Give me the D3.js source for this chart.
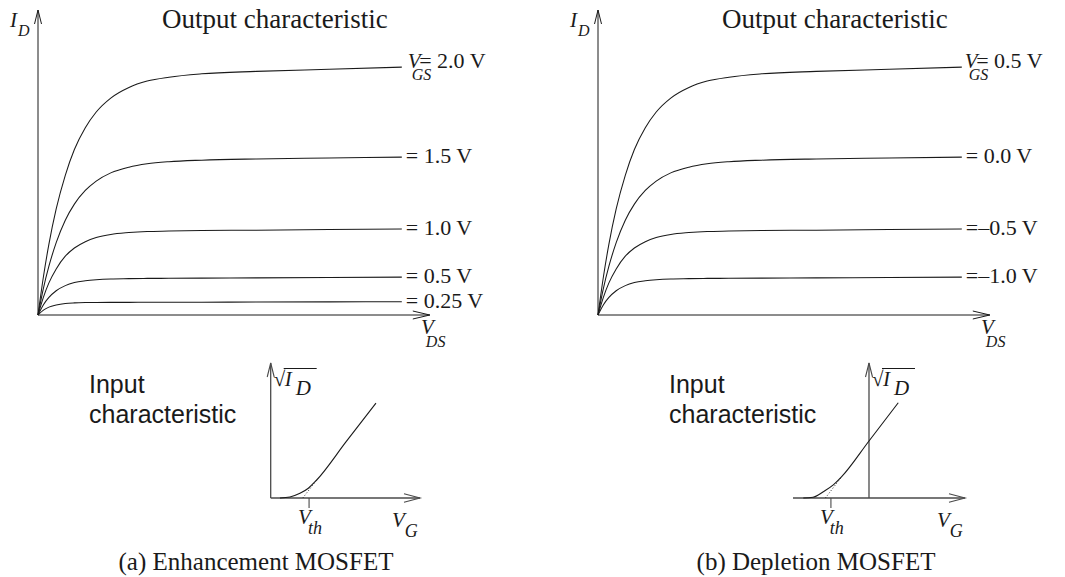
<!DOCTYPE html>
<html>
<head>
<meta charset="utf-8">
<script src="https://cdn.jsdelivr.net/npm/d3@7"></script>
<style>
  body { margin: 0; background: #fff; }
  svg { display: block; }
</style>
</head>
<body>
<svg id="fig" width="1065" height="577"></svg>
<script>
// ---- Output characteristic: drain current vs drain-source voltage ----
const vdsGrid  = [0, 0.15, 0.3, 0.5, 0.75, 1.0, 1.3, 1.6, 2.0, 2.5, 3.0, 3.6, 4.5, 6.0, 8.0, 10.0];
const idCurveA = [0, 1.27, 2.34, 3.50, 4.61, 5.46, 6.18, 6.70, 7.16, 7.51, 7.72, 7.85, 7.96, 8.04, 8.11, 8.18];
const idCurveB = [0, 0.89, 1.61, 2.39, 3.13, 3.66, 4.11, 4.42, 4.69, 4.88, 4.99, 5.06, 5.11, 5.15, 5.18, 5.21];
const idCurveC = [0, 0.59, 1.06, 1.52, 1.94, 2.21, 2.42, 2.555, 2.66, 2.72, 2.755, 2.77, 2.79, 2.80, 2.82, 2.84];
const idCurveD = [0, 0.34, 0.58, 0.80, 0.97, 1.07, 1.13, 1.165, 1.19, 1.20, 1.208, 1.21, 1.217, 1.226, 1.238, 1.25];
const idCurveE = [0, 0.16, 0.26, 0.33, 0.38, 0.40, 0.41, 0.413, 0.416, 0.4175, 0.419, 0.421, 0.4235, 0.428, 0.434, 0.44];

const enhVgsLabels = ["2.0 V", "1.5 V", "1.0 V", "0.5 V", "0.25 V"];
const depVgsLabels = ["0.5 V", "0.0 V", "\u20130.5 V", "\u20131.0 V"];

// ---- Input characteristic: sqrt(I_D) vs gate voltage ----
const enhVg      = [0.62, 1.29, 1.96, 2.52, 3.08, 5.04, 7.05];
const enhSqrtId  = [0, 0.07, 0.31, 0.65, 1.20, 3.74, 6.33];
const enhTangent = [[2.15, 0], [3.08, 1.20]];
const enhVth     = 2.57;

const depVg      = [-4.40, -3.75, -3.06, -2.39, -1.83, 0, 1.96];
const depSqrtId  = [0, 0.05, 0.42, 0.87, 1.42, 3.80, 6.35];
const depTangent = [[-2.92, 0], [-1.83, 1.42]];
const depVth     = -2.55;

const captions = ["(a) Enhancement MOSFET", "(b) Depletion MOSFET"];

const SERIF = "'Liberation Serif', 'Times New Roman', Times, serif";
const SANS  = "'Liberation Sans', Arial, Helvetica, sans-serif";
const INK = "#1a1a1a";

const svg = d3.select("#fig");

function text(g, str, x, y, size, opts = {}) {
  return g.append("text")
    .attr("x", x).attr("y", y)
    .attr("font-family", opts.family || SERIF)
    .attr("font-size", size)
    .attr("font-style", opts.italic ? "italic" : "normal")
    .attr("text-anchor", opts.anchor || "start")
    .attr("fill", opts.fill || INK)
    .text(str);
}

// one text element built from runs: {t, italic, size, dx, dy}
function richText(g, x, y, runs) {
  const el = g.append("text").attr("x", x).attr("y", y)
    .attr("font-family", SERIF).attr("fill", INK);
  runs.forEach(r => {
    el.append("tspan")
      .attr("font-size", r.size)
      .attr("font-style", r.italic ? "italic" : "normal")
      .attr("dx", r.dx || 0).attr("dy", r.dy || 0)
      .text(r.t);
  });
  return el;
}

// open "V" arrowhead pointing in direction (dx, dy) with tip at (tx, ty)
function arrowHead(g, tx, ty, dx, dy, len, half, color, width) {
  const px = -dy, py = dx;
  const bx = tx - dx * len, by = ty - dy * len;
  g.append("path")
    .attr("d", `M${bx + px * half},${by + py * half}L${tx},${ty}L${bx - px * half},${by - py * half}`)
    .attr("fill", "none").attr("stroke", color).attr("stroke-width", width);
}

function outputPanel(ox, curves, labels, vgsDx) {
  const g = svg.append("g");
  const x = d3.scaleLinear().domain([0, 10.5]).range([ox, ox + 382]);
  const y = d3.scaleLinear().domain([0, 10]).range([315, 12]);
  const xAxisEnd = x(10.77), yAxisTop = 10;

  // axes
  g.append("line").attr("x1", x(0)).attr("y1", y(0)).attr("x2", x(0)).attr("y2", yAxisTop)
    .attr("stroke", INK).attr("stroke-width", 1);
  g.append("line").attr("x1", x(0)).attr("y1", y(0)).attr("x2", xAxisEnd).attr("y2", y(0))
    .attr("stroke", INK).attr("stroke-width", 1);
  arrowHead(g, x(0), yAxisTop, 0, -1, 14, 3.5, INK, 1);
  arrowHead(g, xAxisEnd, y(0), 1, 0, 17, 4, INK, 1);

  const line = d3.line().x(d => x(d[0])).y(d => y(d[1])).curve(d3.curveMonotoneX);
  curves.forEach((ids, i) => {
    const pts = vdsGrid.map((v, k) => [v, ids[k]]);
    g.append("path").attr("d", line(pts))
      .attr("fill", "none").attr("stroke", INK).attr("stroke-width", 1.05);
    const xe = x(vdsGrid[vdsGrid.length - 1]);
    const ye = y(ids[ids.length - 1]);
    if (i === 0) {
      richText(g, xe + vgsDx, ye + 1, [
        { t: "V", italic: true, size: 21 },
        { t: "GS", italic: true, size: 16, dx: -9, dy: 12 },
        { t: "= " + labels[i], size: 22, dx: -12, dy: -12 }
      ]);
    } else {
      const sep = labels[i].startsWith("\u2013") ? "" : " ";
      text(g, "=" + sep + labels[i], xe + 4, ye + 6, 22);
    }
  });

  // titles and axis names
  text(g, "Output characteristic", ox + 124, 28, 27);
  richText(g, ox - 28, 27, [
    { t: "I", italic: true, size: 21 },
    { t: "D", italic: true, size: 16, dx: 1, dy: 9 }
  ]);
  richText(g, ox + 383, 334, [
    { t: "V", italic: true, size: 21 },
    { t: "DS", italic: true, size: 16, dx: -8, dy: 13 }
  ]);
}

function inputPanel(cfg) {
  const g = svg.append("g");
  const x = d3.scaleLinear().domain(cfg.domain).range(cfg.range);
  const y = d3.scaleLinear().domain([0, 9]).range([498, 363]);
  const AX = "#4a4a4a";

  // axes
  g.append("line").attr("x1", x(0)).attr("y1", y(0)).attr("x2", x(0)).attr("y2", y(9))
    .attr("stroke", AX).attr("stroke-width", 1.3);
  g.append("line").attr("x1", cfg.range[0]).attr("y1", y(0)).attr("x2", cfg.range[1]).attr("y2", y(0))
    .attr("stroke", AX).attr("stroke-width", 1.3);
  arrowHead(g, x(0), y(9), 0, -1, 14, 3.5, AX, 1.1);
  arrowHead(g, cfg.range[1], y(0), 1, 0, 16, 4.2, AX, 1.1);

  // threshold tick
  g.append("line").attr("x1", x(cfg.vth)).attr("y1", y(0)).attr("x2", x(cfg.vth)).attr("y2", y(0) + 10)
    .attr("stroke", AX).attr("stroke-width", 1.1);

  // extrapolated tangent (dotted)
  g.append("line")
    .attr("x1", x(cfg.tangent[0][0])).attr("y1", y(cfg.tangent[0][1]))
    .attr("x2", x(cfg.tangent[1][0])).attr("y2", y(cfg.tangent[1][1]))
    .attr("stroke", INK).attr("stroke-width", 0.9).attr("stroke-dasharray", "1,2");

  const line = d3.line().x(d => x(d[0])).y(d => y(d[1])).curve(d3.curveMonotoneX);
  const pts = cfg.vg.map((v, k) => [v, cfg.sid[k]]);
  g.append("path").attr("d", line(pts))
    .attr("fill", "none").attr("stroke", INK).attr("stroke-width", 1.1);

  // labels
  const x0 = x(0);
  richText(g, x0 + 3, 386, [
    { t: "\u221A", size: 21 },
    { t: "I", italic: true, size: 21, dx: -0.5 },
    { t: "D", italic: true, size: 21, dx: 4, dy: 9 }
  ]);
  g.append("line").attr("x1", x0 + 13).attr("y1", 368.5).attr("x2", x0 + 46).attr("y2", 368.5)
    .attr("stroke", INK).attr("stroke-width", 1);
  const xv = x(cfg.vth);
  richText(g, xv - 11, 524, [
    { t: "V", italic: true, size: 21 },
    { t: "th", italic: true, size: 18, dx: -3, dy: 10 }
  ]);
  richText(g, cfg.range[1] - 28, 527, [
    { t: "V", italic: true, size: 21 },
    { t: "G", italic: true, size: 18, dx: 0, dy: 10 }
  ]);

  text(g, "Input", cfg.textX, 393, 25, { family: SANS });
  text(g, "characteristic", cfg.textX, 423, 25, { family: SANS });
  text(g, cfg.caption, cfg.captionX, 570, 25, { anchor: "middle" });
}

outputPanel(38, [idCurveA, idCurveB, idCurveC, idCurveD, idCurveE], enhVgsLabels, 6);
outputPanel(598, [idCurveA, idCurveB, idCurveC, idCurveD], depVgsLabels, 3);

inputPanel({
  domain: [0, 10], range: [270.7, 420],
  vg: enhVg, sid: enhSqrtId, tangent: enhTangent, vth: enhVth,
  textX: 89, caption: captions[0], captionX: 256
});
inputPanel({
  domain: [-5.09, 6.43], range: [793, 965],
  vg: depVg, sid: depSqrtId, tangent: depTangent, vth: depVth,
  textX: 669, caption: captions[1], captionX: 816
});
</script>
</body>
</html>
